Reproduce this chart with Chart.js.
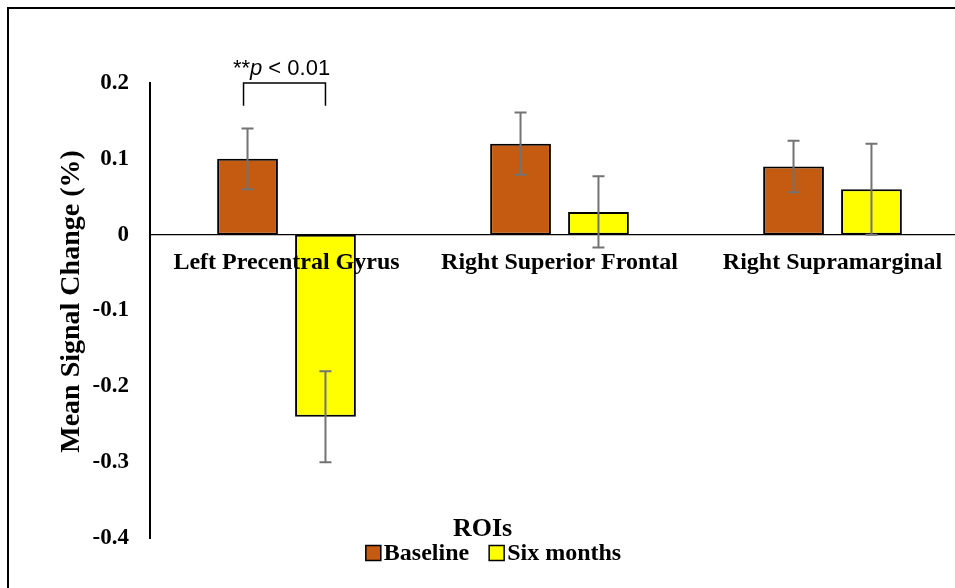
<!DOCTYPE html>
<html>
<head>
<meta charset="utf-8">
<script src="https://cdn.jsdelivr.net/npm/chart.js@4.4.0/dist/chart.umd.min.js"></script>
<style>
  html, body { margin: 0; padding: 0; background: #fff; overflow: hidden; width: 955px; height: 588px; }
  #wrap { width: 975px; height: 588px; position: relative; }
</style>
</head>
<body>
<div id="wrap"><canvas id="chart"></canvas></div>
<script>
const categories = ['Left Precentral Gyrus', 'Right Superior Frontal', 'Right Supramarginal'];
const baseline = [0.10, 0.12, 0.09];
const baselineErr = [0.04, 0.041, 0.034];
const sixMonths = [-0.24, 0.03, 0.06];
const sixMonthsErr = [0.06, 0.047, 0.06];
const yTicks = [0.2, 0.1, 0, -0.1, -0.2, -0.3, -0.4];
const yTickLabels = ['0.2', '0.1', '0', '-0.1', '-0.2', '-0.3', '-0.4'];
const yTitle = 'Mean Signal Change (%)';
// significance bracket between the two bars of the first ROI
const sigCategory = 0;
const sigTop = 0.2;
const sigBottom = 0.17;
const sigText = ['**', 'p', ' < 0.01'];

const serif = '"Liberation Serif", "Times New Roman", serif';

// white page + the chart border (top and left edges only are visible)
const frame = {
  id: 'frame',
  beforeDraw(chart) {
    const ctx = chart.ctx;
    ctx.save();
    ctx.fillStyle = '#fff';
    ctx.fillRect(0, 0, chart.width, chart.height);
    ctx.strokeStyle = '#000';
    ctx.lineWidth = 2;
    ctx.beginPath();
    ctx.moveTo(8, chart.height);
    ctx.lineTo(8, 8);
    ctx.lineTo(chart.width, 8);
    ctx.stroke();
    ctx.restore();
  }
};

// whiskers from each dataset's errors array
const errorBars = {
  id: 'errorBars',
  afterDatasetsDraw(chart) {
    const ctx = chart.ctx, y = chart.scales.y;
    ctx.save();
    ctx.strokeStyle = '#737373';
    ctx.lineWidth = 2;
    chart.data.datasets.forEach((ds, i) => {
      chart.getDatasetMeta(i).data.forEach((bar, j) => {
        const v = ds.data[j], e = ds.errors[j];
        const y1 = y.getPixelForValue(v + e), y2 = y.getPixelForValue(v - e);
        ctx.beginPath();
        ctx.moveTo(bar.x, y1); ctx.lineTo(bar.x, y2);
        ctx.moveTo(bar.x - 6, y1); ctx.lineTo(bar.x + 6, y1);
        ctx.moveTo(bar.x - 6, y2); ctx.lineTo(bar.x + 6, y2);
        ctx.stroke();
      });
    });
    ctx.restore();
  }
};

const sigBracket = {
  id: 'sigBracket',
  afterDatasetsDraw(chart) {
    const ctx = chart.ctx, y = chart.scales.y;
    const b0 = chart.getDatasetMeta(0).data[sigCategory];
    const b1 = chart.getDatasetMeta(1).data[sigCategory];
    const yt = y.getPixelForValue(sigTop), yb = y.getPixelForValue(sigBottom);
    const x0 = b0.x - 4, x1 = b1.x;
    ctx.save();
    ctx.strokeStyle = '#000';
    ctx.lineWidth = 1.5;
    ctx.beginPath();
    ctx.moveTo(x0, yb); ctx.lineTo(x0, yt); ctx.lineTo(x1, yt); ctx.lineTo(x1, yb);
    ctx.stroke();

    const fonts = ['22px "Liberation Sans"', 'italic 22px "Liberation Sans"', '22px "Liberation Sans"'];
    const widths = sigText.map((t, i) => { ctx.font = fonts[i]; return ctx.measureText(t).width; });
    const total = widths.reduce((a, b) => a + b, 0);
    let x = (x0 + x1) / 2 - 3 - total / 2;
    ctx.fillStyle = '#000';
    ctx.textAlign = 'left';
    ctx.textBaseline = 'middle';
    sigText.forEach((t, i) => {
      ctx.font = fonts[i];
      ctx.fillText(t, x, yt - 14);
      x += widths[i];
    });
    ctx.restore();
  }
};

// y title (sits a little above the axis middle, as in the source)
const sideTitle = {
  id: 'sideTitle',
  afterDraw(chart) {
    const ctx = chart.ctx, area = chart.chartArea;
    ctx.save();
    ctx.translate(72, (area.top + area.bottom) / 2 - 9);
    ctx.rotate(-Math.PI / 2);
    ctx.font = 'bold 28px ' + serif;
    ctx.fillStyle = '#000';
    ctx.textAlign = 'center';
    ctx.textBaseline = 'middle';
    ctx.fillText(yTitle, 0, 0);
    ctx.restore();
  }
};

// axis title "ROIs" + legend row under the plot
const bottomLegend = {
  id: 'bottomLegend',
  afterDraw(chart) {
    const ctx = chart.ctx, area = chart.chartArea;
    const cx = (8 + chart.width) / 2;
    ctx.save();
    ctx.fillStyle = '#000';
    ctx.textBaseline = 'middle';
    ctx.textAlign = 'center';
    ctx.font = 'bold 26px ' + serif;
    ctx.fillText('ROIs', cx - 9, area.bottom - 9);

    ctx.font = 'bold 24px ' + serif;
    ctx.textAlign = 'left';
    const box = 15, gap = 3, space = 20;
    const items = chart.data.datasets.map(ds => ({
      label: ds.label, color: ds.backgroundColor, w: ctx.measureText(ds.label).width
    }));
    const total = items.reduce((s, it) => s + box + gap + it.w, 0) + space * (items.length - 1);
    let x = cx - total / 2 + 2;
    const yc = area.bottom + 15;
    items.forEach(it => {
      ctx.fillStyle = it.color;
      ctx.fillRect(x, yc - box / 2, box, box);
      ctx.strokeStyle = '#000';
      ctx.lineWidth = 1.5;
      ctx.strokeRect(x, yc - box / 2, box, box);
      ctx.fillStyle = '#000';
      ctx.fillText(it.label, x + box + gap, yc + 1);
      x += box + gap + it.w + space;
    });
    ctx.restore();
  }
};

new Chart(document.getElementById('chart'), {
  type: 'bar',
  data: {
    labels: categories,
    datasets: [
      {
        label: 'Baseline', data: baseline, errors: baselineErr,
        backgroundColor: '#C55A11', borderColor: '#000', borderWidth: 2, borderSkipped: false,
        barPercentage: 0.78, categoryPercentage: 0.571
      },
      {
        label: 'Six months', data: sixMonths, errors: sixMonthsErr,
        backgroundColor: '#FFFF00', borderColor: '#000', borderWidth: 2, borderSkipped: false,
        barPercentage: 0.78, categoryPercentage: 0.571
      }
    ]
  },
  options: {
    responsive: true,
    maintainAspectRatio: false,
    animation: false,
    layout: { padding: { top: 83, bottom: 50, left: 8, right: 6 } },
    plugins: { legend: { display: false }, tooltip: { enabled: false } },
    scales: {
      x: {
        position: { y: 0 },
        grid: { display: false, drawTicks: false },
        border: { color: '#000', width: 1.25 },
        ticks: {
          z: 1,
          color: '#000', font: { family: serif, size: 24, weight: 'bold' },
          padding: 14, autoSkip: false, maxRotation: 0
        }
      },
      y: {
        min: -0.4,
        max: 0.2,
        afterBuildTicks: s => { s.ticks = yTicks.map(v => ({ value: v })); },
        afterFit: s => { s.width = 142; },
        grid: { display: false, drawTicks: false },
        border: { color: '#000', width: 2 },
        ticks: {
          color: '#000', font: { family: serif, size: 23, weight: 'bold' }, padding: 21,
          callback: v => yTickLabels[yTicks.indexOf(v)]
        }
      }
    }
  },
  plugins: [frame, errorBars, sigBracket, sideTitle, bottomLegend]
});
</script>
</body>
</html>
